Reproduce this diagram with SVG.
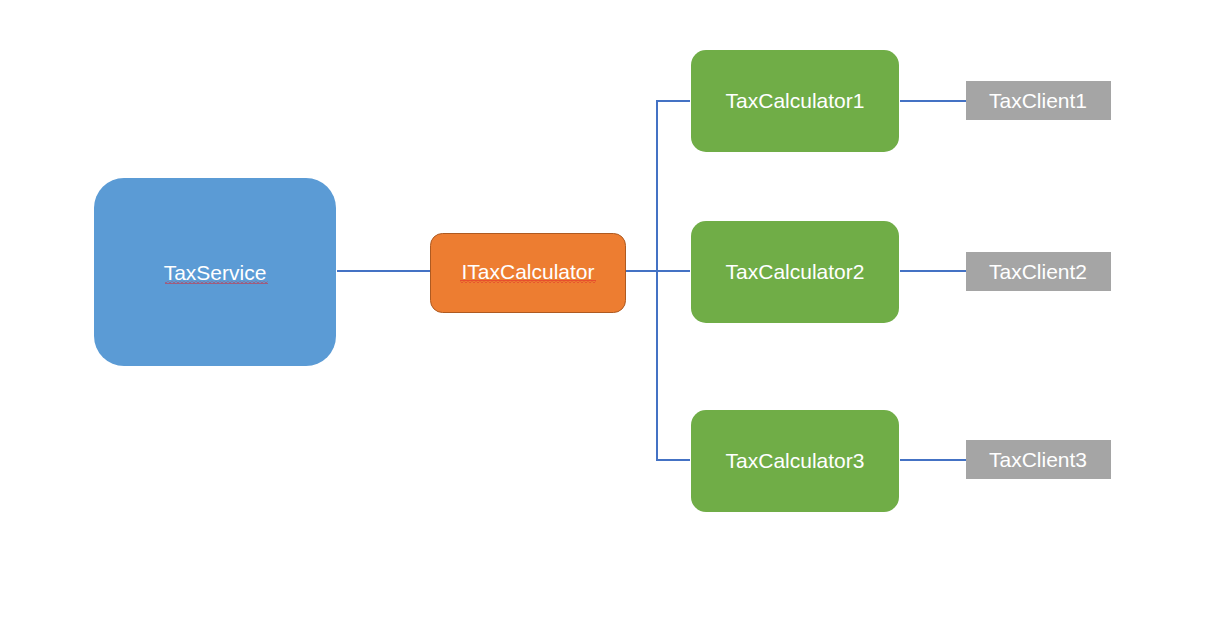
<svg xmlns="http://www.w3.org/2000/svg" width="1213" height="618" viewBox="0 0 1213 618">
<defs>
<style>
.lbl{font-family:"Liberation Sans",Arial,sans-serif;font-size:21px;fill:#ffffff;text-anchor:middle}
.calc{fill:#70AD47}
.client{fill:#A5A5A5}
.conn{fill:none;stroke:#4472C4;stroke-width:2}
</style>
<pattern id="squiggle" x="0" y="0" width="4" height="3" patternUnits="userSpaceOnUse">
<path d="M0 2.5 L2 0.5 L4 2.5" fill="none" stroke="#E0202A" stroke-width="1"/>
</pattern>
</defs>
<rect width="1213" height="618" fill="#ffffff"/>
<g id="connectors">
<line class="conn" x1="337" y1="271" x2="430" y2="271"/>
<polyline class="conn" points="626,271 657,271 657,101 690,101"/>
<polyline class="conn" points="657,271 657,460 690,460"/>
<line class="conn" x1="657" y1="271" x2="690" y2="271"/>
<line class="conn" x1="900" y1="101" x2="966" y2="101"/>
<line class="conn" x1="900" y1="271" x2="966" y2="271"/>
<line class="conn" x1="900" y1="460" x2="966" y2="460"/>
</g>
<g id="taxservice">
<rect x="94" y="178" width="242" height="188" rx="30" fill="#5B9BD5"/>
<text class="lbl" x="215" y="280">TaxService</text>
<rect x="165" y="281" width="103" height="3" fill="url(#squiggle)"/>
</g>
<g id="itaxcalculator">
<rect x="430.5" y="233.5" width="195" height="79" rx="12" fill="#ED7D31" stroke="#AE5A21" stroke-width="1"/>
<text class="lbl" x="528" y="279">ITaxCalculator</text>
<rect x="460" y="280" width="136" height="3" fill="url(#squiggle)"/>
</g>
<g id="taxcalculator1">
<rect class="calc" x="691" y="50" width="208" height="102" rx="15"/>
<text class="lbl" x="795" y="108">TaxCalculator1</text>
</g>
<g id="taxcalculator2">
<rect class="calc" x="691" y="221" width="208" height="102" rx="15"/>
<text class="lbl" x="795" y="279">TaxCalculator2</text>
</g>
<g id="taxcalculator3">
<rect class="calc" x="691" y="410" width="208" height="102" rx="15"/>
<text class="lbl" x="795" y="468">TaxCalculator3</text>
</g>
<g id="taxclient1">
<rect class="client" x="966" y="81" width="145" height="39"/>
<text class="lbl" x="1038" y="108">TaxClient1</text>
</g>
<g id="taxclient2">
<rect class="client" x="966" y="252" width="145" height="39"/>
<text class="lbl" x="1038" y="279">TaxClient2</text>
</g>
<g id="taxclient3">
<rect class="client" x="966" y="440" width="145" height="39"/>
<text class="lbl" x="1038" y="467">TaxClient3</text>
</g>
</svg>
